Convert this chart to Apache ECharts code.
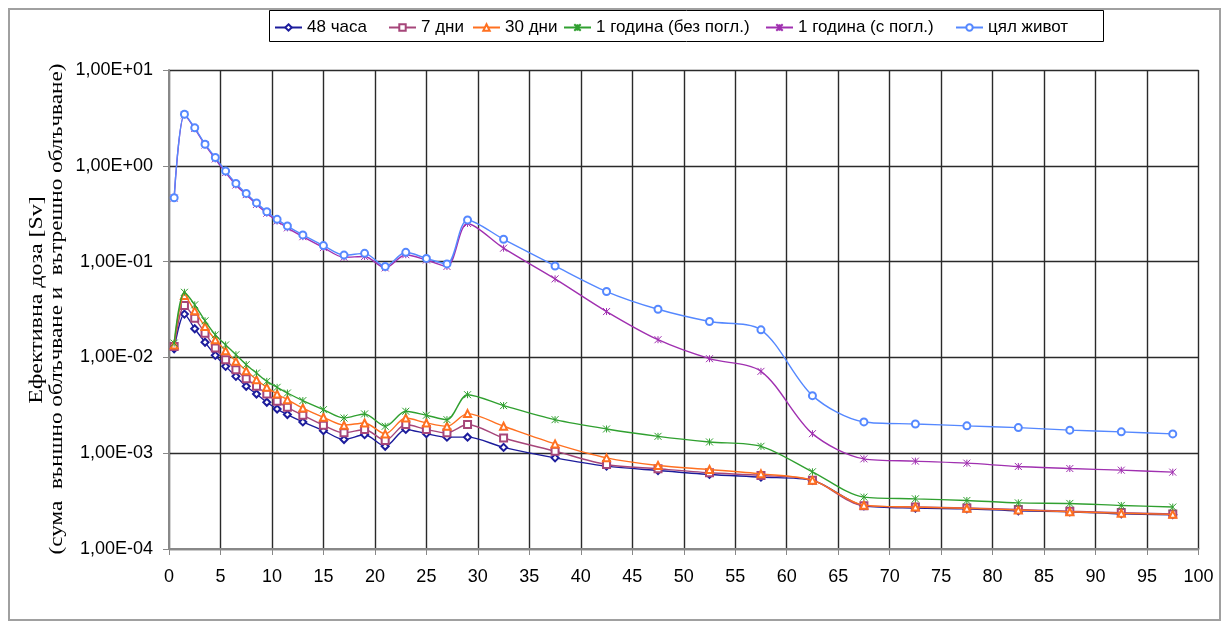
<!DOCTYPE html>
<html>
<head>
<meta charset="utf-8">
<script src="https://cdn.jsdelivr.net/npm/echarts@6/dist/echarts.min.js"></script>
<style>html,body{margin:0;padding:0;background:#fff}#c{width:1226px;height:629px}</style>
</head>
<body>
<div id="c"></div>
<script>
const xs = [0.5,1.5,2.5,3.5,4.5,5.5,6.5,7.5,8.5,9.5,10.5,11.5,13,15,17,19,21,23,25,27,29,32.5,37.5,42.5,47.5,52.5,57.5,62.5,67.5,72.5,77.5,82.5,87.5,92.5,97.5];
const names = ['48 часа','7 дни','30 дни','1 година (без погл.)','1 година (с погл.)','цял живот'];
const h48 = [0.0123,0.0283,0.0199,0.0144,0.0105,0.00806,0.00634,0.00499,0.00415,0.0034,0.00289,0.00253,0.00212,0.00172,0.00139,0.00156,0.00118,0.00177,0.0016,0.00147,0.00147,0.00115,0.000894,0.000733,0.00066,0.0006,0.000562,0.00052,0.000282,0.000267,0.000263,0.00025,0.000245,0.000233,0.000228];
const d7 = [0.013,0.0348,0.0257,0.0179,0.0125,0.00946,0.00744,0.006,0.00499,0.00415,0.00348,0.00301,0.00249,0.00196,0.00163,0.00177,0.00136,0.00199,0.00177,0.00163,0.00199,0.00144,0.00105,0.000762,0.000687,0.000624,0.000586,0.000523,0.000282,0.000275,0.000268,0.000258,0.000248,0.00024,0.000232];
const d30 = [0.0135,0.0442,0.0306,0.021,0.0153,0.01175,0.00909,0.00726,0.00585,0.00487,0.00415,0.00362,0.00296,0.00237,0.00196,0.00207,0.00159,0.00233,0.00207,0.00191,0.00259,0.00191,0.00125,0.000894,0.000745,0.000676,0.000609,0.000523,0.000287,0.000274,0.000266,0.000255,0.000245,0.000236,0.00023];
const y1NoAbs = [0.0141,0.0478,0.0354,0.0241,0.0172,0.0135,0.01066,0.0084,0.00687,0.00562,0.00487,0.00425,0.00354,0.00285,0.00233,0.00257,0.00191,0.00274,0.00249,0.00224,0.00408,0.00314,0.00224,0.00179,0.0015,0.00131,0.00118,0.00064,0.000348,0.000334,0.000321,0.000303,0.000299,0.000285,0.000274];
const y1Abs = [0.46,3.4,2.45,1.65,1.18,0.85,0.63,0.5,0.395,0.32,0.265,0.225,0.182,0.14,0.111,0.113,0.086,0.118,0.104,0.089,0.25,0.138,0.066,0.0301,0.0153,0.0097,0.00715,0.0016,0.000873,0.000826,0.000787,0.000727,0.000692,0.000665,0.000634];
const life = [0.464,3.45,2.49,1.68,1.22,0.88,0.655,0.515,0.41,0.332,0.276,0.235,0.19,0.147,0.117,0.122,0.089,0.125,0.108,0.0946,0.272,0.171,0.09,0.0487,0.0318,0.0237,0.0194,0.00399,0.00212,0.00202,0.00193,0.00185,0.00174,0.00167,0.00159];
const yTickLabels = ['1,00E-04','1,00E-03','1,00E-02','1,00E-01','1,00E+00','1,00E+01'];
const yName1 = 'Ефективна доза [Sv]';
const yName2 = '(сума  външно облъчване и  вътрешно облъчване)';

const seriesData = [h48, d7, d30, y1NoAbs, y1Abs, life];
const colors = ['#1c1c9c','#a6467a','#ff7020','#30a030','#a030b0','#5588ff'];
const star = 'path://M0,0L10,10M10,0L0,10M5,0L5,10';
const symbols = ['emptyDiamond','emptyRect','emptyTriangle',star,star,'emptyCircle'];
const legendLeft = [274,388,472,563,765,955];

const chart = echarts.init(document.getElementById('c'), null, {renderer:'canvas'});
const font = 'Liberation Sans';
const series = seriesData.map((arr, i) => ({
  name: names[i],
  type: 'line',
  data: xs.map((x, j) => [x, arr[j]]),
  smooth: 0.3,
  symbol: symbols[i],
  symbolSize: 7,
  lineStyle: {color: colors[i], width: 1.4},
  itemStyle: {color: colors[i], borderColor: colors[i], borderWidth: 1},
  z: 2 + i,
  animation: false
}));

chart.setOption({
  backgroundColor: '#fff',
  animation: false,
  color: colors,
  grid: {left: 169, right: 27.5, top: 70, bottom: 80},
  legend: names.map((n, i) => ({
    data: [n],
    left: legendLeft[i],
    top: 19,
    padding: 0,
    itemWidth: 27,
    itemHeight: 8,
    itemGap: 0,
    selectedMode: false,
    textStyle: {fontSize: 17, fontFamily: font, color: '#000'}
  })),
  xAxis: {
    type: 'value', min: 0, max: 100, interval: 5,
    axisLine: {show: true, onZero: false, lineStyle: {color: '#888', width: 2}},
    axisTick: {show: true, length: 6, lineStyle: {color: '#888'}},
    axisLabel: {fontSize: 18, fontFamily: font, color: '#000', margin: 19},
    splitLine: {show: true, lineStyle: {color: '#2a2a2a', width: 1.4}}
  },
  yAxis: {
    type: 'log', logBase: 10, min: 1e-4, max: 10,
    axisLine: {show: true, lineStyle: {color: '#888', width: 2}},
    axisTick: {show: true, length: 6, lineStyle: {color: '#888'}},
    axisLabel: {fontSize: 18, fontFamily: font, color: '#000', margin: 16,
      formatter: v => yTickLabels[Math.round(Math.log10(v)) + 4]},
    splitLine: {show: true, lineStyle: {color: '#2a2a2a', width: 1.4}},
    minorTick: {show: false}
  },
  graphic: [
    {type: 'rect', shape: {x: 9, y: 9, width: 1211, height: 611}, style: {fill: 'none', stroke: '#a0a0a0', lineWidth: 2}, silent: true, z: -1},
    {type: 'rect', shape: {x: 269.5, y: 10.5, width: 834, height: 31}, style: {fill: 'none', stroke: '#000', lineWidth: 1}, silent: true},
    {type: 'text', x: 37, y: 300, rotation: Math.PI/2, scaleX: 1.26, style: {text: yName1, font: '19px "Liberation Serif"', fill: '#000', textAlign: 'center', textVerticalAlign: 'middle'}},
    {type: 'text', x: 57, y: 309, rotation: Math.PI/2, scaleX: 1.22, style: {text: yName2, font: '19px "Liberation Serif"', fill: '#000', textAlign: 'center', textVerticalAlign: 'middle'}}
  ],
  series: series
});
</script>
</body>
</html>
